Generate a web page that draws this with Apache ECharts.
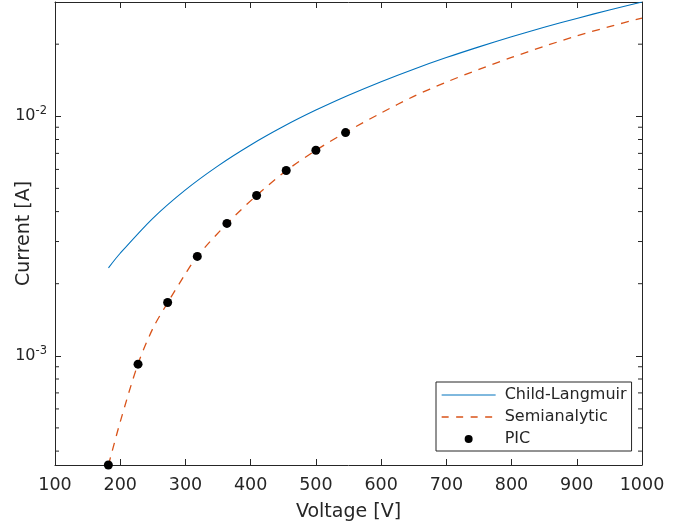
<!DOCTYPE html>
<html><head><meta charset="utf-8">
<script src="https://cdn.jsdelivr.net/npm/echarts@6/dist/echarts.min.js"></script>
<style>html,body{margin:0;padding:0;background:#fff}#c{width:675px;height:528px}</style>
</head><body><div id="c"></div>
<script>
// Child-Langmuir curve
const clVoltage = [182, 200, 250, 300, 350, 400, 450, 500, 550, 600, 650, 700, 750, 800, 850, 900, 950, 1000];
const clCurrent = [2.33e-3, 2.68e-3, 3.75e-3, 4.93e-3, 6.21e-3, 7.59e-3, 9.06e-3, 1.061e-2, 1.224e-2, 1.395e-2, 1.573e-2, 1.758e-2, 1.949e-2, 2.147e-2, 2.352e-2, 2.562e-2, 2.779e-2, 3.0e-2];
// Semianalytic curve
const semiVoltage = [182, 200, 227, 250, 273, 300, 318, 364, 409, 455, 500, 545, 600, 650, 700, 750, 800, 850, 900, 950, 1000];
const semiCurrent = [3.5e-4, 5.3e-4, 9.2e-4, 1.3e-3, 1.67e-3, 2.2e-3, 2.6e-3, 3.57e-3, 4.67e-3, 5.94e-3, 7.21e-3, 8.55e-3, 1.032e-2, 1.211e-2, 1.389e-2, 1.569e-2, 1.76e-2, 1.959e-2, 2.165e-2, 2.368e-2, 2.571e-2];
// PIC points
const picVoltage = [181.8, 227.3, 272.7, 318.2, 363.6, 409.1, 454.5, 500, 545.5];
const picCurrent = [3.5e-4, 9.23e-4, 1.67e-3, 2.6e-3, 3.57e-3, 4.67e-3, 5.94e-3, 7.21e-3, 8.55e-3];
// axis
const xMin = 100, xMax = 1000, xStep = 100;
const yMin = 3.5e-4, yMax = 0.03;
const yMinorTicks = [4e-4, 5e-4, 6e-4, 7e-4, 8e-4, 9e-4, 2e-3, 3e-3, 4e-3, 5e-3, 6e-3, 7e-3, 8e-3, 9e-3, 2e-2];

const FONT = 'DejaVu Sans';
const AX = '#262626';
const zip = (a, b) => a.map((v, i) => [v, b[i]]);

function yLabel(v) {
  const e = Math.log10(v);
  if (Math.abs(e - Math.round(e)) > 1e-6) return '';
  return '{b|10}{s|' + Math.round(e) + '}';
}

const axisCommon = {
  axisLine: { show: true, onZero: false, lineStyle: { color: AX, width: 1 } },
  axisTick: { show: true, inside: true, length: 6, lineStyle: { color: AX, width: 1 } },
  splitLine: { show: false },
  minorTick: { show: false },
  nameMoveOverlap: false
};

const chart = echarts.init(document.getElementById('c'), null, { renderer: 'canvas' });
chart.setOption({
  animation: false,
  backgroundColor: '#fff',
  grid: { left: 55, right: 33, top: 2, bottom: 63, containLabel: false, outerBoundsMode: 'none' },
  xAxis: [
    Object.assign({
      type: 'value', min: xMin, max: xMax, interval: xStep, position: 'bottom',
      name: 'Voltage [V]', nameLocation: 'middle', nameGap: 38,
      nameTextStyle: { fontFamily: FONT, fontSize: 19, color: AX },
      axisLabel: { fontFamily: FONT, fontSize: 17.5, color: AX, margin: 11, formatter: v => String(v) }
    }, axisCommon),
    Object.assign({
      type: 'value', min: xMin, max: xMax, interval: xStep, position: 'top',
      axisLabel: { show: false }
    }, axisCommon)
  ],
  yAxis: [
    Object.assign({
      type: 'log', logBase: 10, min: yMin, max: yMax, position: 'left',
      name: 'Current [A]', nameLocation: 'middle', nameGap: 21, nameRotate: 90,
      nameTextStyle: { fontFamily: FONT, fontSize: 19, color: AX },
      axisLabel: {
        formatter: yLabel, margin: 8,
        rich: {
          b: { fontFamily: FONT, fontSize: 16, color: AX },
          s: { fontFamily: FONT, fontSize: 11.5, color: AX, padding: [0, 0, 10, 0] }
        }
      }
    }, axisCommon),
    Object.assign({
      type: 'log', logBase: 10, min: yMin, max: yMax, position: 'right',
      axisLabel: { show: false }
    }, axisCommon)
  ],
  legend: {
    orient: 'vertical', left: 436, top: 382,
    backgroundColor: '#fff', borderColor: AX, borderWidth: 1, borderRadius: 0,
    padding: [2, 5, 1, 5], itemGap: 0, itemWidth: 54, itemHeight: 8,
    textStyle: { fontFamily: FONT, fontSize: 16, color: AX, lineHeight: 22, padding: [0, 0, 0, 4] },
    data: [
      { name: 'Child-Langmuir', itemStyle: { opacity: 0 }, lineStyle: { width: 1 } },
      { name: 'Semianalytic', itemStyle: { opacity: 0 }, lineStyle: { width: 1.3, type: [7, 7.5] } },
      { name: 'PIC' }
    ]
  },
  series: [
    {
      name: 'Child-Langmuir', type: 'line', data: zip(clVoltage, clCurrent),
      smooth: 0.3, symbol: 'none', lineStyle: { color: '#0072BD', width: 1.1 }, itemStyle: { color: '#0072BD' }
    },
    {
      name: 'Semianalytic', type: 'line', data: zip(semiVoltage, semiCurrent),
      smooth: 0.3, symbol: 'none', lineStyle: { color: '#D95319', width: 1.3, type: [8, 7] }, itemStyle: { color: '#D95319' }
    },
    {
      name: 'PIC', type: 'scatter', data: zip(picVoltage, picCurrent), clip: false,
      symbol: 'circle', symbolSize: 9, itemStyle: { color: '#000', opacity: 1 }, z: 5
    },
    {
      name: 'minor', type: 'custom', silent: true, data: yMinorTicks.map(v => [xMin, v]),
      renderItem: function (params, api) {
        const v = api.value(1);
        const p1 = api.coord([xMin, v]);
        const p2 = api.coord([xMax, v]);
        const st = { stroke: AX, lineWidth: 1 };
        return {
          type: 'group', children: [
            { type: 'line', shape: { x1: p1[0], y1: p1[1], x2: p1[0] + 4, y2: p1[1] }, style: st },
            { type: 'line', shape: { x1: p2[0], y1: p2[1], x2: p2[0] - 4, y2: p2[1] }, style: st }
          ]
        };
      }
    }
  ]
});
</script></body></html>
